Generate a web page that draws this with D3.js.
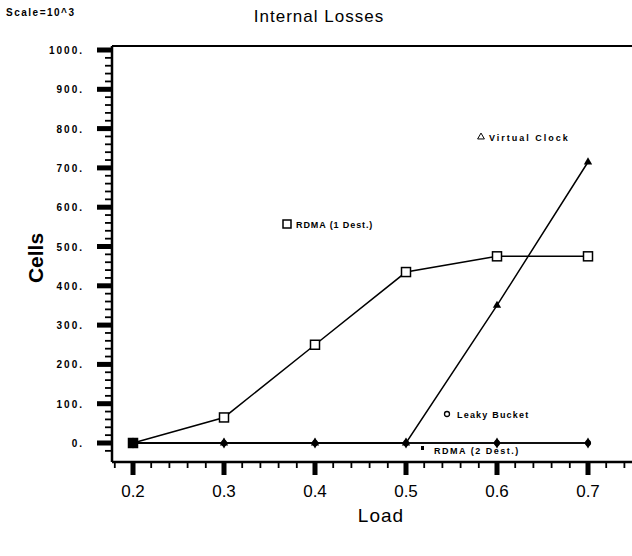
<!DOCTYPE html>
<html>
<head>
<meta charset="utf-8">
<script src="https://cdn.jsdelivr.net/npm/d3@7"></script>
<style>
  body { margin: 0; background: #fff; }
  svg { font-family: "Liberation Sans", Arial, sans-serif; }
</style>
</head>
<body>
<div id="chart"></div>
<script>
// loads on x axis
const loads = [0.2, 0.3, 0.4, 0.5, 0.6, 0.7];
// cells lost (x 10^3)
const rdma1 = [0, 65, 250, 435, 475, 475];
const virtualClock = [0, 0, 0, 0, 350, 715];
const leakyBucket = [0, 0, 0, 0, 0, 0];
const rdma2 = [0, 0, 0, 0, 0, 0];
const yTicks = [0, 100, 200, 300, 400, 500, 600, 700, 800, 900, 1000];
const xTicks = [0.2, 0.3, 0.4, 0.5, 0.6, 0.7];

const W = 632, H = 556;
const svg = d3.select("#chart").append("svg")
  .attr("width", W).attr("height", H);

const x = d3.scaleLinear().domain([0.2, 0.7]).range([133, 588]);
const y = d3.scaleLinear().domain([0, 1000]).range([443, 50]);
const axisX = 112, axisY = 462, topY = 46;

// frame: y axis line, top line, x axis line
svg.append("line").attr("x1", axisX).attr("x2", axisX).attr("y1", topY).attr("y2", axisY)
  .attr("stroke", "#000").attr("stroke-width", 2.5);
svg.append("line").attr("x1", axisX).attr("x2", W).attr("y1", topY).attr("y2", topY)
  .attr("stroke", "#000").attr("stroke-width", 2);
svg.append("line").attr("x1", axisX).attr("x2", W).attr("y1", axisY).attr("y2", axisY)
  .attr("stroke", "#000").attr("stroke-width", 2.5);

// y ticks
const yMinor = d3.range(-20, 1001, 20).filter(v => v % 100 !== 0);
svg.selectAll(".ymin").data(yMinor).enter().append("line")
  .attr("x1", axisX - 7).attr("x2", axisX).attr("y1", d => y(d)).attr("y2", d => y(d))
  .attr("stroke", "#000").attr("stroke-width", 1.8);
svg.selectAll(".ymaj").data(yTicks).enter().append("rect")
  .attr("x", axisX - 15).attr("y", d => y(d) - 2.5).attr("width", 15).attr("height", 5)
  .attr("fill", "#000");
svg.selectAll(".ylab").data(yTicks).enter().append("text")
  .attr("x", 84).attr("y", d => y(d) + 4)
  .attr("text-anchor", "end")
  .attr("font-size", 10).attr("font-weight", "bold").attr("letter-spacing", 2)
  .text(d => d + ".");

// x ticks
const xMinor = d3.range(0.18, 0.76, 0.02).filter(v => Math.abs(Math.round(v * 10) - v * 10) > 0.01 && x(v) < W);
svg.selectAll(".xmin").data(xMinor).enter().append("line")
  .attr("x1", d => x(d)).attr("x2", d => x(d)).attr("y1", axisY).attr("y2", axisY + 6)
  .attr("stroke", "#000").attr("stroke-width", 1.8);
svg.selectAll(".xmaj").data(xTicks).enter().append("rect")
  .attr("x", d => x(d) - 2.5).attr("y", axisY).attr("width", 5).attr("height", 13)
  .attr("fill", "#000");
svg.selectAll(".xlab").data(xTicks).enter().append("text")
  .attr("x", d => x(d)).attr("y", 497)
  .attr("text-anchor", "middle").attr("font-size", 17)
  .text(d => d.toFixed(1));

// lines
const line = d3.line().x((d, i) => x(loads[i])).y(d => y(d));
[rdma1, virtualClock, leakyBucket, rdma2].forEach(s => {
  svg.append("path").datum(s).attr("d", line)
    .attr("fill", "none").attr("stroke", "#000").attr("stroke-width", 1.5);
});

// markers
svg.selectAll(".rd2").data(rdma2).enter().append("path")
  .attr("d", d3.symbol(d3.symbolDiamond, 36))
  .attr("transform", (d, i) => `translate(${x(loads[i])},${y(d)})`)
  .attr("fill", "#000");
svg.selectAll(".lb").data(leakyBucket).enter().append("circle")
  .attr("cx", (d, i) => x(loads[i])).attr("cy", d => y(d)).attr("r", 3)
  .attr("fill", "#000");
svg.selectAll(".vc").data(virtualClock).enter().append("path")
  .attr("d", d3.symbol(d3.symbolTriangle, 30))
  .attr("transform", (d, i) => `translate(${x(loads[i])},${y(d)})`)
  .attr("fill", "#000");
svg.selectAll(".rd1").data(rdma1).enter().append("rect")
  .attr("x", (d, i) => x(loads[i]) - 4.5).attr("y", d => y(d) - 4.5)
  .attr("width", 9).attr("height", 9)
  .attr("fill", (d, i) => i === 0 ? "#000" : "#fff")
  .attr("stroke", "#000").attr("stroke-width", 1.5);

// in-plot labels
const lab = (tx, ty, t, ls) => svg.append("text").attr("x", tx).attr("y", ty)
  .attr("font-size", 9).attr("font-weight", "bold").attr("letter-spacing", ls).text(t);
svg.append("path").attr("d", d3.symbol(d3.symbolTriangle, 20))
  .attr("transform", "translate(481,137)").attr("fill", "none").attr("stroke", "#000");
lab(489, 141, "Virtual Clock", 2);
svg.append("rect").attr("x", 283).attr("y", 220).attr("width", 8).attr("height", 8)
  .attr("fill", "none").attr("stroke", "#000").attr("stroke-width", 1.5);
lab(296, 228, "RDMA (1 Dest.)", 0.9);
svg.append("circle").attr("cx", 447).attr("cy", 414).attr("r", 2.5)
  .attr("fill", "none").attr("stroke", "#000").attr("stroke-width", 1.3);
lab(457, 418, "Leaky Bucket", 1.2);
svg.append("rect").attr("x", 421).attr("y", 446).attr("width", 3).attr("height", 4).attr("fill", "#000");
lab(434, 454, "RDMA (2 Dest.)", 1.5);

// titles
svg.append("text").attr("x", 319).attr("y", 22).attr("text-anchor", "middle")
  .attr("font-size", 17).attr("letter-spacing", 1).text("Internal Losses");
svg.append("text").attr("x", 6).attr("y", 16)
  .attr("font-size", 10).attr("font-weight", "bold").attr("letter-spacing", 1.5).text("Scale=10^3");
svg.append("text").attr("transform", "translate(43,258) rotate(-90)")
  .attr("text-anchor", "middle").attr("font-size", 21).attr("font-weight", "bold")
  .text("Cells");
svg.append("text").attr("x", 381).attr("y", 522).attr("text-anchor", "middle")
  .attr("font-size", 19).attr("letter-spacing", 1).text("Load");
</script>
</body>
</html>
